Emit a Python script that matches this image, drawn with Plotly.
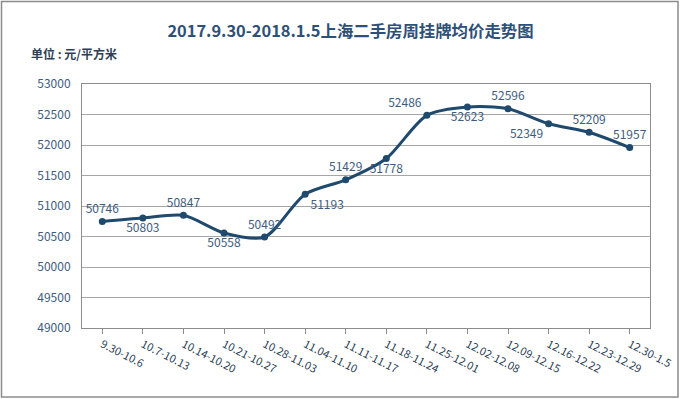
import plotly.graph_objects as go

categories = ["9.30-10.6", "10.7-10.13", "10.14-10.20", "10.21-10.27", "10.28-11.03",
              "11.04-11.10", "11.11-11.17", "11.18-11.24", "11.25-12.01", "12.02-12.08",
              "12.09-12.15", "12.16-12.22", "12.23-12.29", "12.30-1.5"]
prices = [50746, 50803, 50847, 50558, 50492, 51193, 51429, 51778, 52486, 52623,
          52596, 52349, 52209, 51957]
label_pos = ["top center", "bottom center", "top center", "bottom center", "top center",
             "bottom right", "top center", "bottom center", "top left", "bottom center",
             "top center", "bottom left", "top center", "top center"]
y_ticks = [49000, 49500, 50000, 50500, 51000, 51500, 52000, 52500, 53000]

W, H = 680, 399
L, R, T, B = 82, 30, 84, 71
pw, ph = W - L - R, H - T - B

line_color = "#1F4A6E"
text_color = "#3E5C7E"
font_family = "Noto Sans CJK SC, Noto Sans, sans-serif"

fig = go.Figure()
fig.add_trace(go.Scatter(
    x=categories, y=prices, mode="lines+markers+text",
    line=dict(color=line_color, width=3, shape="spline", smoothing=0.8),
    marker=dict(color=line_color, size=7),
    text=[str(v) for v in prices], textposition=label_pos,
    textfont=dict(size=12, color=text_color, family=font_family),
    cliponaxis=False, hoverinfo="x+y", showlegend=False,
))

fig.update_layout(
    width=W, height=H, autosize=False,
    margin=dict(l=L, r=R, t=T, b=B, autoexpand=False),
    paper_bgcolor="white", plot_bgcolor="white",
    font=dict(family=font_family, color=text_color),
    title=dict(text="<b>2017.9.30-2018.1.5上海二手房周挂牌均价走势图</b>",
               x=(169 + 532) / 2 / W, xanchor="center", y=1 - 31 / H, yanchor="middle",
               font=dict(size=16.4, color="#2E5077", family=font_family)),
    xaxis=dict(type="category", showgrid=False, showline=True, linecolor="#8C8C8C",
               mirror=True, ticks="outside", ticklen=5, tickcolor="#8C8C8C",
               tickangle=27, tickfont=dict(size=11, color="#2E3F55"),
               automargin=False, range=[-0.5, len(categories) - 0.5]),
    yaxis=dict(range=[49000, 53000], tickvals=y_ticks,
               ticktext=[str(v) for v in y_ticks], showgrid=True,
               gridcolor="#A6A6A6", gridwidth=1, showline=True, linecolor="#8C8C8C",
               mirror=True, ticks="", ticklabelstandoff=8,
               tickfont=dict(size=12, color=text_color),
               automargin=False, zeroline=False),
    annotations=[dict(text="<b>单位 : 元/平方米</b>", xref="paper", yref="paper",
                      x=(29 - L) / pw, y=1 + (T - 53) / ph, xanchor="left",
                      yanchor="middle", showarrow=False,
                      font=dict(size=12, color="#2E3F55", family=font_family))],
    shapes=[dict(type="rect", xref="paper", yref="paper",
                 x0=(1.5 - L) / pw, x1=1 + (R - 2) / pw,
                 y0=-(B - 2) / ph, y1=1 + (T - 1.5) / ph,
                 line=dict(color="#8C8C8C", width=1.5), layer="above")],
)

post = "document.body.style.margin='0';document.body.style.overflow='hidden';"
fig.write_html("out.html", config={"displayModeBar": False}, post_script=post)
